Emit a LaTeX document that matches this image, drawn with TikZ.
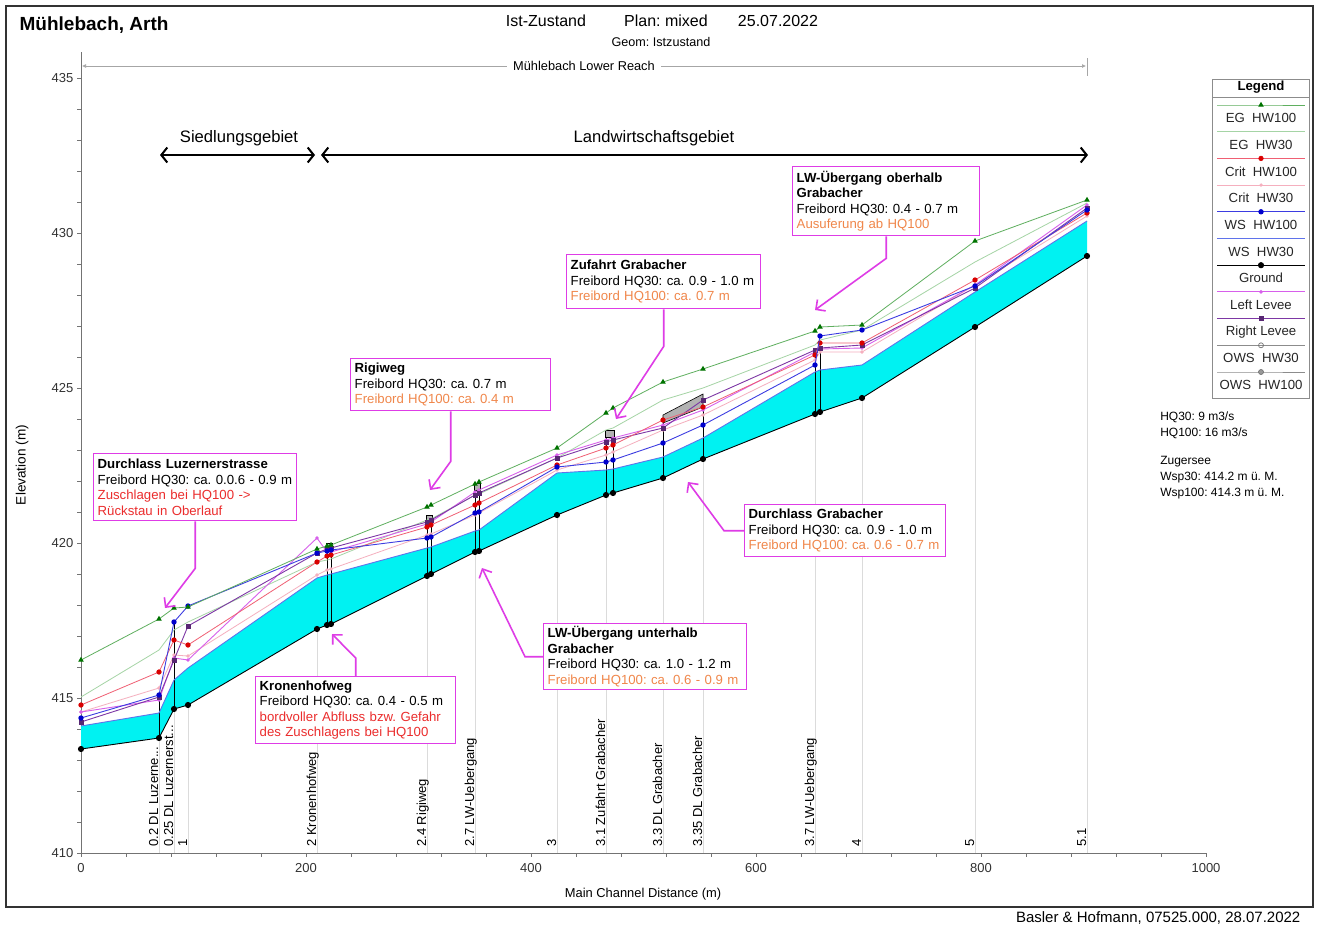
\documentclass[tikz,border=0pt]{standalone}
\usepackage{fontspec}
\setmainfont{Liberation Sans}
\usepackage{xcolor}
\usetikzlibrary{arrows.meta,plotmarks}
\frenchspacing

\definecolor{magbox}{RGB}{222,60,230}
\definecolor{redtxt}{RGB}{235,45,45}
\definecolor{oratxt}{RGB}{240,135,75}
\definecolor{cEgA}{RGB}{95,175,95}
\definecolor{cEgB}{RGB}{165,212,165}
\definecolor{cCritA}{RGB}{240,95,115}
\definecolor{cCritB}{RGB}{245,175,190}
\definecolor{cWsA}{RGB}{60,60,225}
\definecolor{cWsB}{RGB}{95,115,235}
\definecolor{cLevL}{RGB}{215,95,235}
\definecolor{cLevR}{RGB}{125,55,165}
\definecolor{agua}{RGB}{0,242,242}
\newcommand{\fsz}[2]{\fontsize{#1}{#2}\selectfont}
\newcommand{\trespt}{...}

\begin{document}
\begin{tikzpicture}[x=1pt,y=-1pt,semithick]
\tikzstyle{annot}=[draw=magbox,line width=1.4pt,fill=white,anchor=north west,align=left,inner xsep=4pt,inner ysep=2pt,font=\fsz{13.2}{15.5}]
\tikzstyle{annarrow}=[draw=magbox,line width=1.6pt,-{Straight Barb[length=7pt,width=14pt]}]
\tikzstyle{bigarrow}=[draw=black,line width=2pt,{Straight Barb[length=6pt,width=15pt]}-{Straight Barb[length=6pt,width=15pt]}]
\tikzstyle{eje}=[draw=black!55,line width=0.8pt]
\tikzstyle{est}=[rotate=90,anchor=base west,inner sep=0pt,font=\fsz{13}{15}]
\tikzstyle{rejilla}=[draw=black!14,line width=0.6pt]
\tikzstyle{puente}=[draw=black,line width=0.9pt]
\tikzstyle{tablero}=[fill=black!30,draw=black,line width=0.6pt]
\tikzstyle{eg100}=[draw=cEgA,line width=0.8pt,mark=triangle*,mark size=2.4pt,mark options={fill=green!45!black,draw=green!45!black}]
\tikzstyle{eg30}=[draw=cEgB,line width=0.8pt]
\tikzstyle{crit100}=[draw=cCritA,line width=0.8pt,mark=*,mark size=2.2pt,mark options={fill=red!85!black,draw=red!85!black}]
\tikzstyle{crit30}=[draw=cCritB,line width=0.8pt,mark=*,mark size=1.3pt,mark options={fill=cCritB,draw=cCritB}]
\tikzstyle{ws100}=[draw=cWsA,line width=0.9pt,mark=*,mark size=2.2pt,mark options={fill=blue!80!black,draw=blue!80!black}]
\tikzstyle{ws30}=[draw=cWsB,line width=0.9pt]
\tikzstyle{suelo}=[draw=black,line width=0.9pt,mark=*,mark size=2.6pt,mark options={fill=black}]
\tikzstyle{levL}=[draw=cLevL,line width=0.9pt,mark=*,mark size=1.3pt,mark options={fill=cLevL,draw=cLevL}]
\tikzstyle{levR}=[draw=cLevR,line width=0.9pt,mark=square*,mark size=2pt,mark options={fill=cLevR!70!black,draw=cLevR!70!black}]
\tikzstyle{ows30}=[draw=black!45,line width=0.7pt,mark=o,mark size=2.5pt,mark options={draw=black!55}]
\tikzstyle{ows100}=[draw=black!45,line width=0.7pt,mark=*,mark size=2.5pt,mark options={fill=black!40,draw=black!55}]

\useasboundingbox (0,0) rectangle (1317,927);
\fill[white] (0,0) rectangle (1317,927);
\draw[line width=1.3pt,black!80] (6,6) rectangle (1313,907);

%titulos
\node[anchor=west,font=\bfseries\fsz{19}{22}] (titulo) at (16,25) {Mühlebach, Arth};
\node[font=\fsz{16}{19}] (zustand) at (546,21) {Ist-Zustand};
\node[font=\fsz{16}{19}] (plan) at (666,21) {Plan: mixed};
\node[font=\fsz{16}{19}] (fecha) at (778,21) {25.07.2022};
\node[font=\fsz{12.6}{15}] (geom) at (661,42) {Geom: Istzustand};
\node[anchor=east,font=\fsz{15}{18}] (firma) at (1304,918) {Basler \& Hofmann, 07525.000, 28.07.2022};

%tramo
\node[font=\fsz{12.8}{15},fill=white,inner xsep=6pt] (tramo) at (584,66) {Mühlebach Lower Reach};
\draw[black!35,line width=0.7pt,{Latex[length=4pt,width=4pt]}-] (82,66) -- (tramo.west);
\draw[black!35,line width=0.7pt,-{Latex[length=4pt,width=4pt]}] (tramo.east) -- (1086,66);
\draw[black!35,line width=0.7pt] (81,58) -- (81,76) (1087,58) -- (1087,76);

%zonas
\node[font=\fsz{16.6}{19}] (sied) at (239,138) {Siedlungsgebiet};
\node[font=\fsz{16.6}{19}] (land) at (654,138) {Landwirtschaftsgebiet};
\coordinate (sied1) at (160,155);
\coordinate (sied2) at (315,155);
\coordinate (land1) at (321,155);
\coordinate (land2) at (1088,155);
\draw[bigarrow] (sied1) -- (sied2);
\draw[bigarrow] (land1) -- (land2);

%ejes
\draw[eje] (81,52) -- (81,853) -- (1206,853);
\foreach \i in {0,...,25}
  \draw[eje] (81+\i*45,853) -- ++(0,4);
\foreach \i in {0,...,25}
  \draw[eje] (81,853-\i*31) -- ++(-4,0);
\foreach \v [count=\i from 0] in {0,200,400,600,800,1000}
  \node[font=\fsz{13}{15},text=black!80,name=xl\i] at (81+\i*225,868) {\v};
\foreach \v [count=\i from 0] in {410,415,420,425,430,435}
  \node[anchor=east,font=\fsz{13}{15},text=black!80,name=yl\i] at (77,853-\i*155) {\v};
\node[rotate=90,font=\fsz{13.6}{16}] (ytit) at (22,465) {Elevation (m)};
\node[font=\fsz{12.9}{15}] (xtit) at (643,894) {Main Channel Distance (m)};

%estaciones
\foreach \x/\y in {159/738,174/709,188/705,317/629,427/576,475/552,557/515,606/495,663/478,703/459,815/414,862/398,975/327,1087/256}
  \draw[rejilla] (\x,853) -- (\x,\y);
\foreach \x/\t [count=\i] in {158/0.2 DL Luzerne\trespt,173/0.25 DL Luzernerst\trespt,187/1,316/2 Kronenhofweg,426/2.4 Rigiweg,474/2.7 LW-Uebergang,556/3,605/3.1 Zufahrt Grabacher,662/3.3 DL Grabacher,702/3.35 DL Grabacher,814/3.7 LW-Uebergang,861/4,974/5,1086/5.1}
  \node[est,name=st\i] at (\x,847) {\t};

%agua
\fill[agua] (81,726) -- (159,713) -- (174,680) -- (188,668) -- (317,578) -- (327,575) -- (331,574) -- (427,548) -- (431,547) -- (475,531) -- (479,530) -- (557,473) -- (606,470) -- (613,469) -- (663,457) -- (703,438) -- (815,372) -- (820,370) -- (862,365) -- (975,292) -- (1087,221)
  -- (1087,256) -- (975,327) -- (862,398) -- (820,412) -- (815,414) -- (703,459) -- (663,478) -- (613,493) -- (606,495) -- (557,515) -- (479,551) -- (475,552) -- (431,574) -- (427,576) -- (331,624) -- (327,625) -- (317,629) -- (188,705) -- (174,709) -- (159,738) -- (81,749) -- cycle;

%puentes
\draw[puente] (159,738) -- (159,695) (174,709) -- (174,622) (327,625) -- (327,548) (331,624) -- (331,548)
  (427,576) -- (427,523) (431,574) -- (431,523) (475,552) -- (475,490) (479,551) -- (479,490)
  (606,495) -- (606,437) (613,493) -- (613,437) (663,478) -- (663,423) (703,459) -- (703,407)
  (815,414) -- (815,350) (820,412) -- (820,350);
\draw[tablero] (326,543) rectangle (332,550);
\draw[tablero] (426,515) rectangle (432,523);
\draw[tablero] (474,483) rectangle (480,490);
\draw[tablero] (605,430) rectangle (614,437);
\draw[tablero] (663,415) -- (703,394) -- (703,407) -- (663,423) -- cycle;

%perfiles
\draw[ws30] plot coordinates {(81,726) (159,713) (174,680) (188,668) (317,578) (327,575) (331,574) (427,548) (431,547) (475,531) (479,530) (557,473) (606,470) (613,469) (663,457) (703,438) (815,372) (820,370) (862,365) (975,292) (1087,221)};
\draw[eg30] plot coordinates {(81,697) (159,650) (174,630) (188,622) (317,562) (327,560) (331,559) (427,520) (431,519) (475,495) (479,494) (557,458) (606,430) (613,428) (663,400) (703,388) (815,345) (820,340) (862,330) (975,262) (1087,203)};
\draw[crit30] plot coordinates {(81,712) (159,688) (174,655) (188,656) (317,575) (327,570) (331,569) (427,535) (431,534) (475,515) (479,513) (557,470) (606,455) (613,452) (663,430) (703,415) (815,360) (820,352) (862,352) (975,285) (1087,216)};
\draw[levL] plot coordinates {(81,712) (159,700) (174,658) (188,660) (317,538) (327,552) (331,552) (427,524) (431,522) (475,492) (479,490) (557,455) (606,440) (613,438) (663,425) (703,410) (815,352) (820,349) (862,348) (975,285) (1087,205)};
\draw[levR] plot coordinates {(81,722) (159,697) (174,660) (188,626) (317,553) (327,549) (331,548) (427,522) (431,520) (475,495) (479,493) (557,458) (606,442) (613,440) (663,428) (703,400) (815,350) (820,348) (862,345) (975,288) (1087,208)};
\draw[crit100] plot coordinates {(81,705) (159,672) (174,640) (188,645) (317,562) (327,556) (331,555) (427,527) (431,525) (475,505) (479,503) (557,465) (606,448) (613,445) (663,420) (703,407) (815,355) (820,343) (862,343) (975,280) (1087,213)};
\draw[ws100] plot coordinates {(81,718) (159,695) (174,622) (188,606) (317,553) (327,551) (331,550) (427,538) (431,537) (475,513) (479,512) (557,467) (606,462) (613,460) (663,443) (703,425) (815,365) (820,336) (862,330) (975,286) (1087,210)};
\draw[eg100] plot coordinates {(81,660) (159,619) (174,608) (188,607) (317,549) (327,546) (331,545) (427,507) (431,505) (475,484) (479,482) (557,448) (606,413) (613,408) (663,382) (703,369) (815,331) (820,327) (862,325) (975,241) (1087,200)};
\draw[suelo] plot coordinates {(81,749) (159,738) (174,709) (188,705) (317,629) (327,625) (331,624) (427,576) (431,574) (475,552) (479,551) (557,515) (606,495) (613,493) (663,478) (703,459) (815,414) (820,412) (862,398) (975,327) (1087,256)};

%leyenda
\draw[black!45,line width=0.8pt] (1212,79) rectangle (1309,398);
\node[font=\bfseries\fsz{13.2}{15}] (legT) at (1261,87) {Legend};
\draw[black!45,line width=0.8pt] (1212,97) -- (1309,97);
\foreach \s/\t [count=\i from 0] in {eg100/EG\ \ HW100,eg30/EG\ \ HW30,crit100/Crit\ \ HW100,crit30/Crit\ \ HW30,ws100/WS\ \ HW100,ws30/WS\ \ HW30,suelo/Ground,levL/Left Levee,levR/Right Levee,ows30/OWS\ \ HW30,ows100/OWS\ \ HW100}{
  \pgfmathsetmacro\ya{105+\i*26.7}
  \pgfmathsetmacro\yb{118+\i*26.7}
  \draw[\s,mark indices={2}] plot coordinates {(1217,\ya) (1261,\ya) (1305,\ya)};
  \node[font=\fsz{13.2}{15},text=black!85,name=leg\i] at (1261,\yb) {\t};
}

%caudales
\node[anchor=north west,align=left,inner sep=0pt,font=\fsz{12}{16}] (hq) at (1160,411) {HQ30: 9 m3/s\\HQ100: 16 m3/s};
\node[anchor=north west,align=left,inner sep=0pt,font=\fsz{12}{16}] (zug) at (1160,456) {Zugersee\\Wsp30: 414.2 m ü. M.\\Wsp100: 414.3 m ü. M.};

%anotaciones
\node[annot,text width=195pt,minimum height=67pt] (luz) at (93,453) {\textbf{Durchlass Luzernerstrasse}\\Freibord HQ30: ca. 0.0.6 - 0.9 m\\\textcolor{redtxt}{Zuschlagen bei HQ100 ->}\\\textcolor{redtxt}{Rückstau in Oberlauf}};
\node[annot,text width=192pt,minimum height=52pt] (rigi) at (350,358) {\textbf{Rigiweg}\\Freibord HQ30: ca. 0.7 m\\\textcolor{oratxt}{Freibord HQ100: ca. 0.4 m}};
\node[annot,text width=186pt,minimum height=54pt] (zuf) at (566,254) {\textbf{Zufahrt Grabacher}\\Freibord HQ30: ca. 0.9 - 1.0 m\\\textcolor{oratxt}{Freibord HQ100: ca. 0.7 m}};
\node[annot,text width=179pt,minimum height=69pt] (ober) at (792,166) {\textbf{LW-Übergang oberhalb}\\\textbf{Grabacher}\\Freibord HQ30: 0.4 - 0.7 m\\\textcolor{oratxt}{Ausuferung ab HQ100}};
\node[annot,text width=193pt,minimum height=52pt] (dlgrab) at (744,504) {\textbf{Durchlass Grabacher}\\Freibord HQ30: ca. 0.9 - 1.0 m\\\textcolor{oratxt}{Freibord HQ100: ca. 0.6 - 0.7 m}};
\node[annot,text width=195pt,minimum height=66pt] (unter) at (543,623) {\textbf{LW-Übergang unterhalb}\\\textbf{Grabacher}\\Freibord HQ30: ca. 1.0 - 1.2 m\\\textcolor{oratxt}{Freibord HQ100: ca. 0.6 - 0.9 m}};
\node[annot,text width=192pt,minimum height=67pt] (kron) at (255,676) {\textbf{Kronenhofweg}\\Freibord HQ30: ca. 0.4 - 0.5 m\\\textcolor{redtxt}{bordvoller Abfluss bzw. Gefahr}\\\textcolor{redtxt}{des Zuschlagens bei HQ100}};

\coordinate (luzTip) at (165,608);
\coordinate (rigiTip) at (430,490);
\coordinate (zufTip) at (616,419);
\coordinate (oberTip) at (815,310);
\coordinate (dlgTip) at (688,482);
\coordinate (unterTip) at (482,568);
\coordinate (kronTip) at (332,634);
\draw[annarrow] (luz.south) -- ++(0,47) -- (luzTip);
\draw[annarrow] (rigi.south) -- ++(0,50) -- (rigiTip);
\draw[annarrow] (zuf.south) -- ++(0,37) -- (zufTip);
\draw[annarrow] (ober.south) -- ++(0,22) -- (oberTip);
\draw[annarrow] (dlgrab.west) -- ++(-20,0) -- (dlgTip);
\draw[annarrow] (unter.west) -- ++(-18,0) -- (unterTip);
\draw[annarrow] (kron.north) -- ++(0,-18) -- (kronTip);
\end{tikzpicture}
\end{document}
